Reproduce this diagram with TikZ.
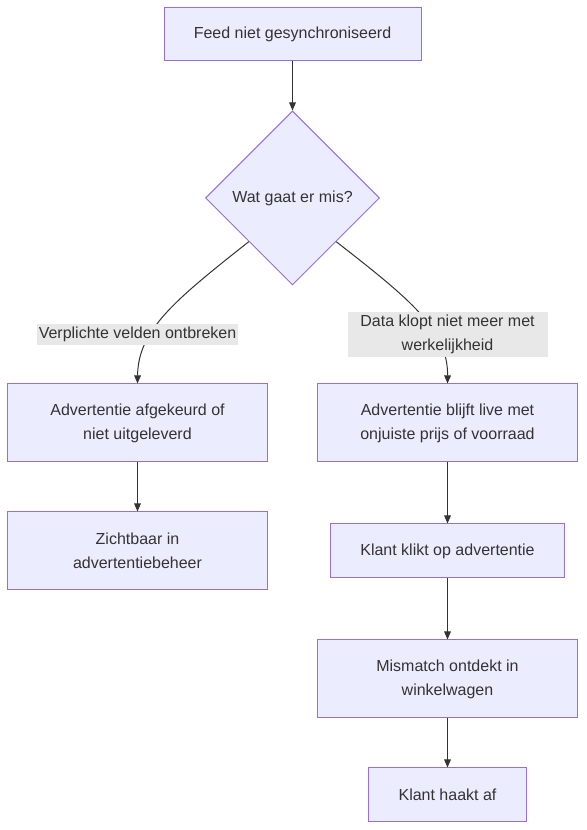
\documentclass[tikz,border=0pt]{standalone}
\usepackage{fontspec}
\setmainfont{Liberation Sans}
\usetikzlibrary{arrows.meta,positioning,shapes.geometric}
\definecolor{vlak}{HTML}{ECECFF}
\definecolor{rand}{HTML}{9370DB}
\definecolor{inkt}{HTML}{333333}
\definecolor{labelgrijs}{HTML}{E8E8E8}
\tikzset{
    %Define standard arrow tip
    >={Triangle[length=6pt,width=5pt]},
    %Define style for boxes
    blok/.style={
           draw=rand,
           fill=vlak,
           line width=0.75pt,
           text=inkt,
           align=center,
           inner sep=0pt,
           minimum width=195pt,
           minimum height=58.5pt,
           font=\fontsize{12}{18}\selectfont,},
    keuze/.style={
           blok,
           diamond,
           aspect=1,
           minimum width=130.5pt,
           minimum height=130.5pt,},
    etiket/.style={
           fill=labelgrijs,
           text=inkt,
           align=center,
           inner xsep=1pt,
           inner ysep=2.5pt,
           font=\fontsize{12}{18}\selectfont,},
    pijl/.style={
           ->,
           draw=inkt,
           line width=0.75pt,}
}
\begin{document}
\begin{tikzpicture}[x=0.75pt, y=-0.75pt, on grid, node distance=96pt]
 \useasboundingbox (0,0) rectangle (586,830);
 %nodes
 \node[blok, minimum width=192.75pt, minimum height=39.75pt] (feed) at (292.5,34.5) {Feed niet gesynchroniseerd};
 \node[keuze, below=122.6pt of feed] (wat) {Wat gaat er mis?};
 \node[blok, below left=168.75pt and 116.25pt of wat] (afgekeurd) {Advertentie afgekeurd of\\niet uitgeleverd};
 \node[blok, below=of afgekeurd] (zichtbaar) {Zichtbaar in\\advertentiebeheer};
 \node[blok, below right=168.75pt and 116.25pt of wat] (live) {Advertentie blijft live met\\onjuiste prijs of voorraad};
 \node[blok, below=of live, minimum width=175.5pt, minimum height=40.5pt] (klikt) {Klant klikt op advertentie};
 \node[blok, below=of klikt] (mismatch) {Mismatch ontdekt in\\winkelwagen};
 \node[blok, below=87pt of mismatch, minimum width=118.5pt, minimum height=40.5pt] (haakt) {Klant haakt af};

 %edges
 \draw[pijl] (feed) -- (wat);
 \draw[pijl] (wat.south west) .. controls (175,300) and (138,330) .. (afgekeurd.north);
 \draw[pijl] (wat.south east) .. controls (411,300) and (448,330) .. (live.north);
 \draw[pijl] (afgekeurd) -- (zichtbaar);
 \draw[pijl] (live) -- (klikt);
 \draw[pijl] (klikt) -- (mismatch);
 \draw[pijl] (mismatch) -- (haakt);

 %labels
 \node[etiket, above=66.4pt of afgekeurd] (velden) {Verplichte velden ontbreken};
 \node[etiket, above=66.4pt of live, minimum width=150pt] (klopt) {Data klopt niet meer met\\werkelijkheid};
\end{tikzpicture}
\end{document}
